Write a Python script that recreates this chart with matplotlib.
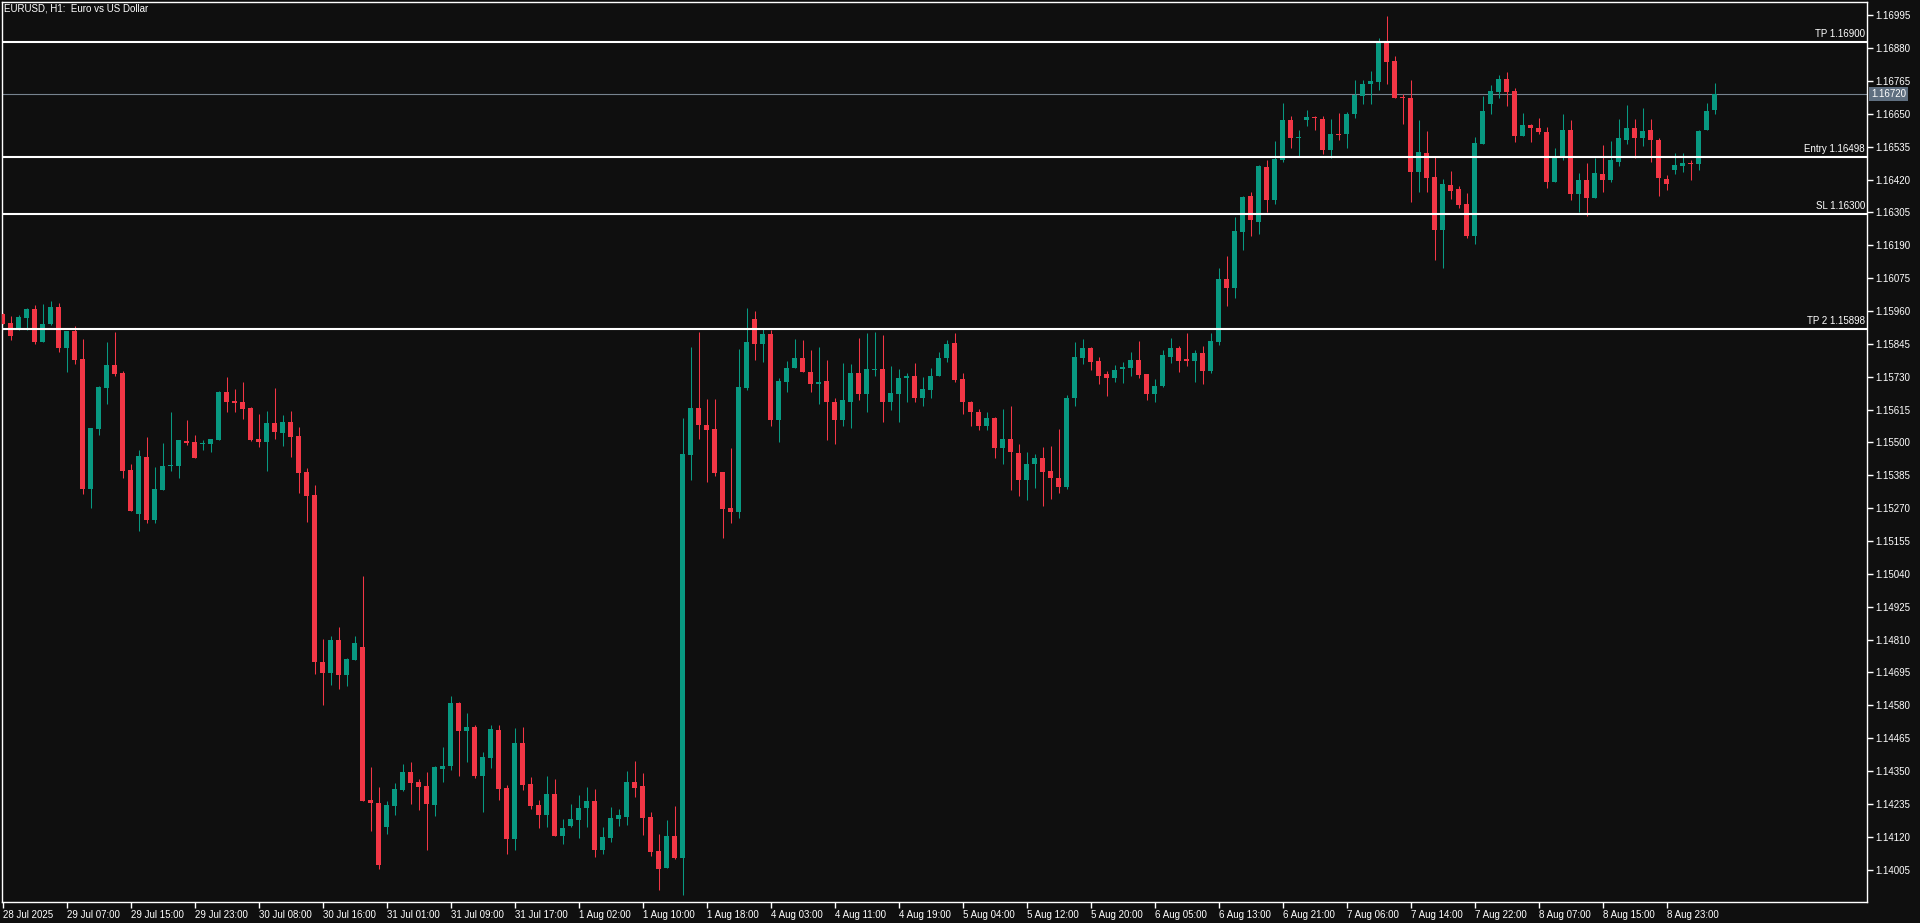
import numpy as np
import matplotlib.pyplot as plt

BG = '#0f0f0f'
BULL = '#089981'
BEAR = '#f23645'

opens = [
    1.15950, 1.15918, 1.15895, 1.15937, 1.15967, 1.15853, 1.15913, 1.15974, 1.15829, 1.15890,
    1.15792, 1.15338, 1.15548, 1.15692, 1.15771, 1.15743, 1.15404, 1.15251, 1.15449, 1.15230,
    1.15335, 1.15417, 1.15419, 1.15505, 1.15502, 1.15494, 1.15496, 1.15509, 1.15677, 1.15645,
    1.15642, 1.15621, 1.15512, 1.15502, 1.15568, 1.15533, 1.15572, 1.15523, 1.15397, 1.15316,
    1.14732, 1.14693, 1.14809, 1.14686, 1.14739, 1.14784, 1.14249, 1.14238, 1.14154, 1.14228,
    1.14284, 1.14347, 1.14312, 1.14298, 1.14231, 1.14357, 1.14368, 1.14588, 1.14490, 1.14504,
    1.14333, 1.14396, 1.14494, 1.14291, 1.14112, 1.14448, 1.14305, 1.14231, 1.14196, 1.14270,
    1.14123, 1.14158, 1.14179, 1.14220, 1.14245, 1.14073, 1.14115, 1.14182, 1.14189, 1.14312,
    1.14298, 1.14189, 1.14070, 1.14010, 1.14122, 1.14046, 1.15457, 1.15620, 1.15561, 1.15547,
    1.15397, 1.15271, 1.15258, 1.15692, 1.15932, 1.15843, 1.15880, 1.15580, 1.15713, 1.15759,
    1.15796, 1.15747, 1.15703, 1.15715, 1.15642, 1.15580, 1.15643, 1.15743, 1.15671, 1.15755,
    1.15757, 1.15640, 1.15671, 1.15724, 1.15733, 1.15654, 1.15682, 1.15734, 1.15794, 1.15848,
    1.15722, 1.15642, 1.15607, 1.15556, 1.15586, 1.15482, 1.15512, 1.15463, 1.15370, 1.15423,
    1.15446, 1.15400, 1.15376, 1.15345, 1.15654, 1.15797, 1.15831, 1.15785, 1.15741, 1.15727,
    1.15758, 1.15762, 1.15789, 1.15740, 1.15671, 1.15699, 1.15800, 1.15831, 1.15792, 1.15786,
    1.15813, 1.15751, 1.15853, 1.16072, 1.16042, 1.16238, 1.16363, 1.16273, 1.16464, 1.16347,
    1.16490, 1.16629, 1.16565, 1.16627, 1.16639, 1.16632, 1.16525, 1.16580, 1.16578, 1.16648,
    1.16714, 1.16753, 1.16763, 1.16899, 1.16835, 1.16709, 1.16706, 1.16445, 1.16513, 1.16429,
    1.16245, 1.16401, 1.16387, 1.16335, 1.16224, 1.16546, 1.16683, 1.16728, 1.16772, 1.16730,
    1.16574, 1.16611, 1.16601, 1.16587, 1.16413, 1.16501, 1.16594, 1.16371, 1.16419, 1.16357,
    1.16440, 1.16420, 1.16483, 1.16560, 1.16601, 1.16564, 1.16594, 1.16559, 1.16422, 1.16452,
    1.16469, 1.16478, 1.16476, 1.16592, 1.16662,
]
highs = [
    1.15952, 1.15943, 1.15946, 1.15971, 1.15981, 1.15985, 1.15995, 1.15988, 1.15890, 1.15908,
    1.15862, 1.15551, 1.15698, 1.15852, 1.15887, 1.15750, 1.15425, 1.15474, 1.15519, 1.15414,
    1.15498, 1.15607, 1.15509, 1.15579, 1.15526, 1.15509, 1.15512, 1.15680, 1.15729, 1.15687,
    1.15712, 1.15624, 1.15600, 1.15610, 1.15691, 1.15596, 1.15610, 1.15554, 1.15411, 1.15351,
    1.14812, 1.14823, 1.14854, 1.14746, 1.14823, 1.15033, 1.14364, 1.14294, 1.14245, 1.14308,
    1.14375, 1.14382, 1.14322, 1.14347, 1.14368, 1.14434, 1.14613, 1.14590, 1.14553, 1.14511,
    1.14417, 1.14511, 1.14511, 1.14301, 1.14501, 1.14504, 1.14329, 1.14249, 1.14333, 1.14322,
    1.14182, 1.14235, 1.14266, 1.14294, 1.14287, 1.14154, 1.14224, 1.14218, 1.14350, 1.14385,
    1.14343, 1.14207, 1.14129, 1.14178, 1.14227, 1.15586, 1.15834, 1.15887, 1.15652, 1.15652,
    1.15397, 1.15481, 1.15827, 1.15971, 1.15960, 1.15898, 1.15894, 1.15726, 1.15785, 1.15862,
    1.15859, 1.15824, 1.15834, 1.15789, 1.15656, 1.15778, 1.15775, 1.15866, 1.15884, 1.15887,
    1.15877, 1.15768, 1.15757, 1.15743, 1.15778, 1.15729, 1.15761, 1.15817, 1.15859, 1.15884,
    1.15743, 1.15645, 1.15617, 1.15607, 1.15588, 1.15617, 1.15628, 1.15495, 1.15467, 1.15460,
    1.15484, 1.15488, 1.15547, 1.15666, 1.15852, 1.15862, 1.15834, 1.15799, 1.15750, 1.15771,
    1.15782, 1.15817, 1.15855, 1.15740, 1.15722, 1.15824, 1.15866, 1.15838, 1.15883, 1.15824,
    1.15838, 1.15883, 1.16111, 1.16153, 1.16289, 1.16363, 1.16377, 1.16471, 1.16489, 1.16555,
    1.16688, 1.16643, 1.16594, 1.16664, 1.16643, 1.16643, 1.16632, 1.16653, 1.16657, 1.16769,
    1.16769, 1.16800, 1.16916, 1.16993, 1.16853, 1.16720, 1.16769, 1.16629, 1.16590, 1.16499,
    1.16422, 1.16450, 1.16398, 1.16373, 1.16569, 1.16713, 1.16751, 1.16786, 1.16797, 1.16741,
    1.16653, 1.16615, 1.16636, 1.16604, 1.16531, 1.16650, 1.16629, 1.16443, 1.16478, 1.16496,
    1.16541, 1.16555, 1.16632, 1.16681, 1.16632, 1.16671, 1.16632, 1.16566, 1.16436, 1.16513,
    1.16513, 1.16489, 1.16594, 1.16688, 1.16759,
]
lows = [
    1.15914, 1.15859, 1.15894, 1.15892, 1.15846, 1.15850, 1.15912, 1.15815, 1.15748, 1.15773,
    1.15321, 1.15272, 1.15527, 1.15633, 1.15731, 1.15377, 1.15261, 1.15191, 1.15219, 1.15219,
    1.15335, 1.15401, 1.15377, 1.15492, 1.15447, 1.15472, 1.15467, 1.15509, 1.15607, 1.15607,
    1.15582, 1.15505, 1.15484, 1.15400, 1.15512, 1.15488, 1.15449, 1.15323, 1.15222, 1.14690,
    1.14581, 1.14651, 1.14637, 1.14648, 1.14739, 1.14245, 1.14140, 1.14007, 1.14130, 1.14196,
    1.14280, 1.14235, 1.14214, 1.14074, 1.14193, 1.14312, 1.14354, 1.14333, 1.14382, 1.14326,
    1.14207, 1.14361, 1.14249, 1.14060, 1.14074, 1.14284, 1.14217, 1.14151, 1.14154, 1.14123,
    1.14095, 1.14154, 1.14116, 1.14154, 1.14049, 1.14060, 1.14102, 1.14158, 1.14160, 1.14258,
    1.14126, 1.14053, 1.13933, 1.14010, 1.14042, 1.13917, 1.15368, 1.15513, 1.15363, 1.15381,
    1.15167, 1.15219, 1.15237, 1.15685, 1.15787, 1.15783, 1.15559, 1.15503, 1.15678, 1.15759,
    1.15745, 1.15675, 1.15636, 1.15507, 1.15496, 1.15556, 1.15552, 1.15647, 1.15608, 1.15731,
    1.15570, 1.15612, 1.15570, 1.15643, 1.15643, 1.15629, 1.15654, 1.15734, 1.15780, 1.15710,
    1.15598, 1.15559, 1.15545, 1.15542, 1.15444, 1.15426, 1.15335, 1.15314, 1.15300, 1.15342,
    1.15279, 1.15303, 1.15324, 1.15338, 1.15629, 1.15773, 1.15755, 1.15706, 1.15664, 1.15713,
    1.15709, 1.15734, 1.15727, 1.15650, 1.15643, 1.15695, 1.15779, 1.15748, 1.15769, 1.15713,
    1.15706, 1.15744, 1.15842, 1.15979, 1.16007, 1.16175, 1.16224, 1.16231, 1.16308, 1.16333,
    1.16483, 1.16529, 1.16504, 1.16609, 1.16595, 1.16511, 1.16497, 1.16560, 1.16532, 1.16634,
    1.16686, 1.16683, 1.16732, 1.16756, 1.16707, 1.16616, 1.16343, 1.16375, 1.16378, 1.16140,
    1.16112, 1.16353, 1.16322, 1.16217, 1.16196, 1.16546, 1.16648, 1.16704, 1.16676, 1.16553,
    1.16574, 1.16553, 1.16578, 1.16392, 1.16410, 1.16490, 1.16347, 1.16308, 1.16291, 1.16354,
    1.16378, 1.16413, 1.16469, 1.16546, 1.16497, 1.16536, 1.16480, 1.16364, 1.16382, 1.16438,
    1.16448, 1.16420, 1.16455, 1.16592, 1.16651,
]
closes = [
    1.15916, 1.15874, 1.15939, 1.15967, 1.15853, 1.15915, 1.15974, 1.15832, 1.15890, 1.15790,
    1.15338, 1.15551, 1.15694, 1.15771, 1.15741, 1.15401, 1.15261, 1.15453, 1.15230, 1.15337,
    1.15418, 1.15419, 1.15509, 1.15499, 1.15447, 1.15497, 1.15512, 1.15677, 1.15642, 1.15638,
    1.15617, 1.15509, 1.15502, 1.15568, 1.15537, 1.15572, 1.15519, 1.15393, 1.15313, 1.14732,
    1.14693, 1.14809, 1.14686, 1.14742, 1.14798, 1.14245, 1.14238, 1.14021, 1.14231, 1.14287,
    1.14347, 1.14308, 1.14294, 1.14235, 1.14364, 1.14368, 1.14588, 1.14490, 1.14504, 1.14333,
    1.14399, 1.14497, 1.14287, 1.14112, 1.14448, 1.14301, 1.14228, 1.14196, 1.14270, 1.14123,
    1.14151, 1.14182, 1.14221, 1.14245, 1.14073, 1.14119, 1.14185, 1.14196, 1.14312, 1.14291,
    1.14185, 1.14066, 1.14006, 1.14122, 1.14046, 1.15460, 1.15620, 1.15562, 1.15545, 1.15394,
    1.15268, 1.15258, 1.15694, 1.15852, 1.15843, 1.15880, 1.15580, 1.15715, 1.15761, 1.15796,
    1.15745, 1.15706, 1.15712, 1.15640, 1.15580, 1.15649, 1.15743, 1.15671, 1.15757, 1.15757,
    1.15643, 1.15673, 1.15726, 1.15733, 1.15657, 1.15687, 1.15733, 1.15796, 1.15845, 1.15720,
    1.15640, 1.15605, 1.15556, 1.15586, 1.15482, 1.15512, 1.15465, 1.15367, 1.15425, 1.15446,
    1.15398, 1.15377, 1.15345, 1.15656, 1.15799, 1.15831, 1.15783, 1.15734, 1.15727, 1.15754,
    1.15764, 1.15789, 1.15737, 1.15671, 1.15698, 1.15806, 1.15831, 1.15786, 1.15786, 1.15813,
    1.15751, 1.15855, 1.16072, 1.16042, 1.16240, 1.16359, 1.16277, 1.16468, 1.16350, 1.16492,
    1.16629, 1.16564, 1.16567, 1.16639, 1.16634, 1.16525, 1.16580, 1.16576, 1.16650, 1.16716,
    1.16755, 1.16765, 1.16899, 1.16830, 1.16707, 1.16704, 1.16448, 1.16517, 1.16427, 1.16245,
    1.16405, 1.16381, 1.16332, 1.16224, 1.16548, 1.16660, 1.16730, 1.16772, 1.16728, 1.16574,
    1.16611, 1.16599, 1.16585, 1.16413, 1.16501, 1.16594, 1.16371, 1.16419, 1.16357, 1.16443,
    1.16420, 1.16489, 1.16566, 1.16601, 1.16567, 1.16590, 1.16560, 1.16424, 1.16403, 1.16471,
    1.16478, 1.16476, 1.16590, 1.16660, 1.16720,
]

time_labels = [
    '28 Jul 2025', '29 Jul 07:00', '29 Jul 15:00', '29 Jul 23:00', '30 Jul 08:00',
    '30 Jul 16:00', '31 Jul 01:00', '31 Jul 09:00', '31 Jul 17:00', '1 Aug 02:00',
    '1 Aug 10:00', '1 Aug 18:00', '4 Aug 03:00', '4 Aug 11:00', '4 Aug 19:00',
    '5 Aug 04:00', '5 Aug 12:00', '5 Aug 20:00', '6 Aug 05:00', '6 Aug 13:00',
    '6 Aug 21:00', '7 Aug 06:00', '7 Aug 14:00', '7 Aug 22:00', '8 Aug 07:00',
    '8 Aug 15:00', '8 Aug 23:00',
]
price_ticks = [
    1.16995, 1.16880, 1.16765, 1.16650, 1.16535, 1.16420, 1.16305, 1.16190, 1.16075,
    1.15960, 1.15845, 1.15730, 1.15615, 1.15500, 1.15385, 1.15270, 1.15155, 1.15040,
    1.14925, 1.14810, 1.14695, 1.14580, 1.14465, 1.14350, 1.14235, 1.14120, 1.14005,
]
level_names = ['TP', 'Entry', 'SL', 'TP 2']
level_prices = [1.16900, 1.16498, 1.16300, 1.15898]
last_price = 1.16720

plt.rcParams['font.family'] = ['Liberation Sans', 'DejaVu Sans']
FS = 7

W, H = 1920, 923
fig = plt.figure(figsize=(W / 100, H / 100), dpi=100, facecolor=BG)
ax = fig.add_axes([2 / W, 21 / H, 1865 / W, 900 / H])
ax.set_facecolor(BG)

o = np.array(opens)
h = np.array(highs)
l = np.array(lows)
c = np.array(closes)
x = np.arange(len(o))
up = c >= o
cols = np.where(up, BULL, BEAR)

ax.vlines(x, l, h, colors=cols, linewidth=0.75, zorder=2)
body = np.maximum(np.abs(c - o), 0.000035)
ax.bar(x, body, bottom=np.minimum(o, c), width=0.625, color=cols,
       linewidth=0, zorder=3)

# trade levels
for name, p in zip(level_names, level_prices):
    ax.axhline(p, color='white', linewidth=1.5, zorder=4)
    ax.annotate(f'{name} {p:.5f}', xy=(1, p), xycoords=('axes fraction', 'data'),
                xytext=(-2, 3), textcoords='offset pixels', ha='right', va='bottom',
                color='white', fontsize=FS)

# bid line
ax.axhline(last_price, color='#77838f', linewidth=0.8, zorder=1)
ax.annotate(f'{last_price:.5f}', xy=(1, last_price), xycoords=('axes fraction', 'data'),
            xytext=(4, 0), textcoords='offset pixels', ha='left', va='center',
            color='white', fontsize=FS, annotation_clip=False,
            bbox=dict(boxstyle='square,pad=0.2', fc='#5f6f80', ec='none'))

ax.set_xlim(-0.0625, 233.06)
ax.set_ylim(1.138918, 1.170415)

ax.yaxis.tick_right()
ax.set_yticks(price_ticks)
ax.set_yticklabels([f'{p:.5f}' for p in price_ticks])
ax.set_xticks(np.arange(len(time_labels)) * 8)
ax.set_xticklabels(time_labels)
for lbl in ax.get_xticklabels():
    lbl.set_ha('left')
ax.tick_params(axis='both', colors='white', labelsize=FS, length=4, width=1)
ax.tick_params(axis='y', pad=2)
ax.tick_params(axis='x', pad=2)
for s in ax.spines.values():
    s.set_color('white')
    s.set_linewidth(1)

fig.text(4 / W, 1 - 8.5 / H, 'EURUSD, H1:  Euro vs US Dollar', color='white',
         fontsize=FS, va='center', ha='left')

fig.savefig('out.png', dpi=100, facecolor=BG)
